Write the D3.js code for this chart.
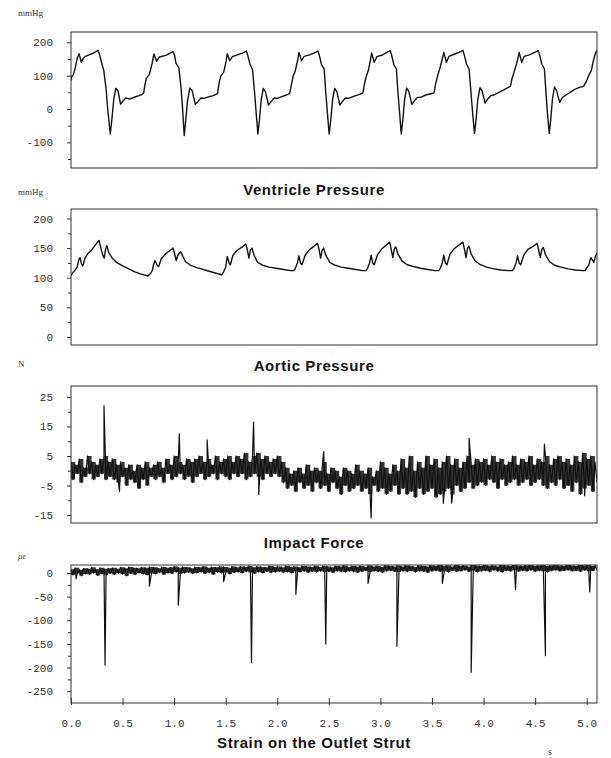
<!DOCTYPE html>
<html lang="en">
<head>
<meta charset="utf-8" />
<title>Valve Test Traces</title>
<script src="https://d3js.org/d3.v7.min.js"></script>
<style>
  body{margin:0;background:#fff;}
  svg{display:block;}
  .tick text{font-family:"Liberation Mono","DejaVu Sans Mono",monospace;font-size:11px;fill:#333;}
  .tick line{stroke:#333;stroke-width:1;}
  .unit{font-family:"Liberation Serif","DejaVu Serif",serif;font-size:9px;fill:#333;}
  .title{font-family:"Liberation Sans",Arial,sans-serif;font-size:15px;font-weight:bold;fill:#151515;letter-spacing:.6px;}
  .frame{fill:none;stroke:#333;stroke-width:1;}
  .trace{fill:none;stroke:#111;stroke-linejoin:round;}
  .band{fill:#111;fill-opacity:.85;stroke:none;}
</style>
</head>
<body>
<svg id="chart" width="611" height="758"></svg>
<script>
// -------------- DATA --------------
// time axis (s)
const X_TICKS=[0,0.5,1,1.5,2,2.5,3,3.5,4,4.5,5];

// ventricle pressure, [s, mmHg]
const VENTRICLE=[
  [0,85],[0.006,98],[0.02,100],[0.04,122],[0.06,152],[0.078,166],[0.10,140],[0.12,152],[0.14,158],[0.18,163],
  [0.22,168],[0.262,176],[0.275,165],[0.30,135],[0.318,115],[0.34,60],[0.356,0],[0.381,-75],[0.395,-35],[0.415,30],
  [0.435,62],[0.455,55],[0.48,15],[0.50,22],[0.53,33],[0.57,30],[0.62,36],[0.66,40],[0.69,44],[0.705,48],
  [0.715,70],[0.73,92],[0.76,104],[0.785,135],[0.804,165],[0.83,143],[0.855,156],[0.92,161],[0.99,172],[1.005,160],
  [1.018,137],[1.045,125],[1.065,70],[1.08,10],[1.098,-80],[1.112,-35],[1.13,25],[1.152,63],[1.175,55],[1.205,14],
  [1.23,22],[1.26,33],[1.29,32],[1.34,37],[1.38,40],[1.42,46],
  [1.44,85],[1.455,100],[1.48,110],[1.505,145],[1.515,166],[1.54,145],[1.565,157],[1.62,163],[1.68,170],[1.70,174],
  [1.715,160],[1.735,135],[1.76,118],[1.78,50],[1.795,-10],[1.812,-75],[1.828,-30],[1.845,30],[1.865,62],[1.885,52],
  [1.915,12],[1.94,22],[1.97,33],[2.00,32],[2.05,38],[2.09,42],[2.12,47],
  [2.135,70],[2.155,100],[2.175,115],[2.20,150],[2.21,170],[2.235,145],[2.26,158],[2.32,163],[2.37,170],[2.395,174],
  [2.41,158],[2.43,132],[2.455,120],[2.47,50],[2.487,-15],[2.503,-75],[2.52,-30],[2.537,30],[2.557,62],[2.577,52],
  [2.607,12],[2.63,22],[2.66,33],[2.69,32],[2.74,38],[2.79,43],[2.83,48],
  [2.845,75],[2.865,100],[2.885,118],[2.905,150],[2.915,168],[2.94,140],[2.965,157],[3.02,162],[3.075,172],[3.095,175],
  [3.11,160],[3.13,133],[3.155,120],[3.17,50],[3.187,-15],[3.202,-75],[3.218,-30],[3.235,30],[3.255,63],[3.275,53],
  [3.305,14],[3.33,25],[3.36,35],[3.39,35],[3.44,42],[3.48,45],[3.52,48],
  [3.535,75],[3.555,100],[3.575,120],[3.60,150],[3.615,170],[3.64,140],[3.665,158],[3.72,165],[3.78,172],[3.80,176],
  [3.815,160],[3.835,135],[3.86,120],[3.878,50],[3.895,-15],[3.912,-73],[3.928,-30],[3.945,30],[3.965,64],[3.985,55],
  [4.015,18],[4.04,30],[4.07,40],[4.10,42],[4.15,50],[4.20,58],[4.24,65],[4.26,68],
  [4.275,90],[4.29,105],[4.31,125],[4.33,148],[4.345,170],[4.37,140],[4.395,158],[4.45,163],[4.51,172],[4.53,175],
  [4.545,160],[4.565,135],[4.59,120],[4.605,50],[4.62,-15],[4.637,-73],[4.652,-30],[4.668,30],[4.688,66],[4.708,55],
  [4.738,20],[4.765,35],[4.80,42],[4.84,50],[4.88,58],[4.93,65],[4.97,68],[5.00,85],[5.02,100],[5.045,115],
  [5.065,145],[5.085,168],[5.10,175]
];

// aortic pressure, [s, mmHg]
const AORTIC=[
  [0,103],[0.01,107],[0.035,112],[0.06,118],[0.075,130],[0.088,134],[0.10,124],[0.115,120],[0.135,133],[0.16,140],
  [0.20,147],[0.235,155],[0.272,163],[0.29,150],[0.31,137],[0.322,133],[0.335,148],[0.348,154],[0.365,143],[0.40,133],
  [0.45,125],[0.50,120],[0.56,115],[0.62,110],[0.68,106],[0.745,103],
  [0.775,108],[0.79,113],[0.80,122],[0.815,129],[0.835,121],[0.85,119],[0.875,132],[0.92,141],[0.96,146],[0.99,150],
  [1.005,140],[1.02,129],[1.035,138],[1.06,144],[1.08,138],[1.11,127],[1.16,121],[1.22,117],[1.28,114],[1.34,111],
  [1.40,108],[1.46,105],
  [1.48,110],[1.50,118],[1.515,136],[1.535,124],[1.545,122],[1.57,138],[1.61,146],[1.66,152],[1.695,157],[1.71,147],
  [1.725,133],[1.74,147],[1.755,150],[1.775,138],[1.81,126],[1.86,121],[1.92,118],[1.99,116],[2.06,114],[2.13,112],
  [2.16,112],
  [2.175,116],[2.195,125],[2.21,137],[2.225,125],[2.24,122],[2.27,138],[2.31,147],[2.355,153],[2.39,158],[2.405,148],
  [2.42,133],[2.435,146],[2.45,150],[2.47,138],[2.51,126],[2.56,121],[2.62,118],[2.69,116],[2.76,114],[2.83,112],
  [2.86,112],
  [2.875,116],[2.895,125],[2.91,138],[2.925,125],[2.94,122],[2.97,138],[3.01,148],[3.055,155],[3.09,160],[3.105,148],
  [3.12,134],[3.135,149],[3.15,152],[3.17,140],[3.21,128],[3.26,122],[3.32,119],[3.39,116],[3.46,114],[3.53,112],
  [3.565,112],
  [3.58,116],[3.60,125],[3.615,138],[3.63,125],[3.645,122],[3.675,140],[3.715,149],[3.76,155],[3.80,160],[3.815,148],
  [3.83,134],[3.845,150],[3.86,153],[3.88,140],[3.92,128],[3.97,122],[4.03,118],[4.10,115],[4.17,113],[4.24,112],
  [4.28,112],
  [4.295,116],[4.315,125],[4.33,137],[4.345,125],[4.36,122],[4.39,138],[4.43,148],[4.48,153],[4.52,158],[4.535,146],
  [4.55,134],[4.565,148],[4.58,151],[4.60,139],[4.64,127],[4.69,121],[4.75,118],[4.82,115],[4.89,113],[4.96,112],
  [4.985,112],[5.00,117],[5.02,121],[5.04,134],[5.055,130],[5.07,126],[5.085,136],[5.10,141]
];

// impact force (N): upper / lower swing of the trace in each 0.04 s step
const SAMPLE=0.04;
const IMPACT_HI=[
  3,2,4,1,5,3,2,4,5,3,  4,2,3,1,2,0,2,1,3,1,  2,3,1,4,2,5,3,2,4,3,  4,5,3,4,2,5,3,4,5,3,
  5,4,6,3,5,6,4,5,3,4,  5,3,1,-1,0,1,-1,2,0,1,  0,3,-1,1,0,-2,1,0,-1,2,  0,-1,1,-2,0,3,1,-1,2,0,
  4,1,5,0,3,1,5,2,4,1,  3,5,2,4,1,3,5,2,4,3,  4,2,5,3,4,2,3,5,2,4,  3,5,2,4,3,5,2,4,5,3,
  4,2,5,3,6,4,5,3
];
const IMPACT_LO=[
  -3,-1,-4,-2,-1,-3,-2,-1,-3,-2,  -3,-4,-2,-5,-3,-4,-6,-3,-5,-2,  -3,-2,-4,-1,-3,-2,-1,-3,-2,-4,  -2,-1,-3,-2,-1,-3,-1,-2,-3,-1,
  -2,-1,-3,-2,-1,-2,-3,-1,-2,-1,  -2,-4,-6,-5,-7,-4,-6,-5,-7,-4,  -6,-5,-7,-4,-6,-8,-5,-7,-6,-5,  -7,-6,-8,-5,-7,-6,-8,-7,-5,-8,
  -6,-8,-7,-9,-6,-8,-7,-6,-9,-8,  -7,-6,-8,-5,-7,-6,-4,-6,-5,-4,  -5,-3,-4,-6,-3,-5,-4,-3,-5,-4,  -3,-5,-4,-3,-5,-6,-4,-5,-3,-6,
  -5,-7,-4,-8,-6,-5,-7,-4
];
const IMPACT_SPIKES=[
  [0.32,22],[0.47,-7],[1.05,12.5],[1.32,10.5],[1.77,16.5],[1.82,-8],[2.45,6.5],[2.91,-16],
  [3.61,-11],[3.69,-11],[3.86,11],[4.59,9],[4.98,-8.5]
];

// strain on the outlet strut (microstrain)
const STRAIN_HI=[
  8,11,7,10,9,12,8,11,9,10,  11,9,12,10,13,11,10,12,11,13,  12,10,13,11,12,14,11,13,12,10,  13,12,14,11,13,12,14,13,11,14,
  12,14,13,15,12,14,13,12,15,13,  14,12,15,13,14,12,15,14,13,15,  13,15,14,12,15,14,16,13,15,14,  15,13,16,14,15,13,16,15,14,16,
  14,16,15,13,16,15,14,16,15,17,  15,16,14,17,15,16,14,17,16,15,  17,15,16,14,17,16,15,17,16,15,  16,17,15,16,17,15,16,17,16,15,
  17,16,15,17,16,17,15,16
];
const STRAIN_LO=[
  -4,-1,-6,-2,-3,0,-5,-2,-4,-1,  -3,0,-2,-6,-1,-3,0,-2,-4,-1,  -2,1,-3,0,-1,2,-2,0,1,-1,  0,2,-1,1,-3,2,0,1,-2,1,
  2,0,3,1,-1,2,0,3,1,2,  3,1,2,0,3,2,4,1,3,2,  4,2,3,1,4,3,2,4,3,1,  3,5,2,4,3,1,4,5,3,2,
  4,3,5,2,4,3,1,4,5,3,  4,2,5,3,4,6,3,5,2,4,  5,3,6,4,2,5,4,6,3,5,  4,6,3,5,4,2,5,6,4,5,
  6,4,5,3,6,4,5,6
];
const STRAIN_SPIKES=[
  [0.05,-12],[0.33,-195],[0.76,-28],[1.04,-68],[1.48,-18],[1.75,-190],[2.18,-45],[2.47,-150],
  [2.88,-22],[3.16,-155],[3.60,-22],[3.88,-210],[4.31,-35],[4.60,-175],[5.03,-40]
];

// y ticks per panel
const VP_TICKS=[200,100,0,-100],   VP_MINOR=[150,50,-50,-150];
const AO_TICKS=[200,150,100,50,0], AO_MINOR=[175,125,75,25];
const IF_TICKS=[25,15,5,-5,-15],   IF_MINOR=[20,10,0,-10];
const ST_TICKS=[0,-50,-100,-150,-200,-250], ST_MINOR=[-25,-75,-125,-175,-225];

// -------------- BUILD --------------
function noiseTrace(hi,lo,spikes){
  const pts=[];
  hi.forEach((h,i)=>{
    pts.push([i*SAMPLE,h]);
    pts.push([i*SAMPLE+SAMPLE/2,lo[i]]);
  });
  return pts.concat(spikes).sort((a,b)=>a[0]-b[0]);
}
function envelope(hi,lo){
  return hi.map((h,i)=>({t:i*SAMPLE,hi:h,lo:lo[i]}));
}

const svg=d3.select('#chart');
const X0=71,X1=597;
const x=d3.scaleLinear().domain([0,5.1]).range([X0,X1]);
const line=(y)=>d3.line().x(d=>x(d[0])).y(d=>y(d[1]));

const panels=[
  {top:32, bottom:168,domain:[-177,231],ticks:VP_TICKS,minor:VP_MINOR,data:VENTRICLE,width:1.4,
   unit:'mmHg',unitY:16,title:'Ventricle Pressure',titleY:195},
  {top:209,bottom:345,domain:[-13.5,216],ticks:AO_TICKS,minor:AO_MINOR,data:AORTIC,width:1.4,
   unit:'mmHg',unitY:195,title:'Aortic Pressure',titleY:371},
  {top:386,bottom:523,domain:[-17.7,28.7],ticks:IF_TICKS,minor:IF_MINOR,data:noiseTrace(IMPACT_HI,IMPACT_LO,IMPACT_SPIKES),width:1.2,
   band:envelope(IMPACT_HI,IMPACT_LO),unit:'N',unitY:367,title:'Impact Force',titleY:548},
  {top:565,bottom:703,domain:[-275,17],ticks:ST_TICKS,minor:ST_MINOR,data:noiseTrace(STRAIN_HI,STRAIN_LO,STRAIN_SPIKES),width:1.2,
   band:envelope(STRAIN_HI,STRAIN_LO),unit:'\u03BC\u03B5',unitY:559,title:'Strain on the Outlet Strut',titleY:748}
];

panels.forEach((p,i)=>{
  const y=d3.scaleLinear().domain(p.domain).range([p.bottom,p.top]);
  const id='clip'+i;
  svg.append('clipPath').attr('id',id).append('rect')
    .attr('x',X0).attr('y',p.top).attr('width',X1-X0).attr('height',p.bottom-p.top);

  if(p.band){
    // dense trace: shade the min/max envelope of each step
    const area=d3.area().curve(d3.curveStepAfter)
      .x(d=>x(d.t)).y0(d=>y(d.lo)).y1(d=>y(d.hi));
    svg.append('path').datum(p.band).attr('class','band').attr('clip-path',`url(#${id})`).attr('d',area);
  }
  svg.append('path').datum(p.data).attr('class','trace').attr('clip-path',`url(#${id})`)
    .attr('stroke-width',p.width).attr('d',line(y));

  svg.append('rect').attr('class','frame')
    .attr('x',X0).attr('y',p.top).attr('width',X1-X0).attr('height',p.bottom-p.top);

  const ax=svg.append('g').attr('transform',`translate(${X0},0)`)
    .call(d3.axisLeft(y).tickValues(p.ticks).tickSize(4).tickPadding(14).tickFormat(d=>d));
  ax.select('.domain').remove();
  const mn=svg.append('g').attr('transform',`translate(${X0},0)`)
    .call(d3.axisLeft(y).tickValues(p.minor).tickSize(3).tickFormat(''));
  mn.select('.domain').remove();

  svg.append('text').attr('class','unit').attr('x',18).attr('y',p.unitY)
    .style('font-style',i===3?'italic':'normal').text(p.unit);
  svg.append('text').attr('class','title').attr('x',314).attr('y',p.titleY)
    .attr('text-anchor','middle').text(p.title);

  if(i===3){
    const bx=svg.append('g').attr('transform',`translate(0,${p.bottom})`)
      .call(d3.axisBottom(x).tickValues(X_TICKS).tickSizeInner(-5).tickSizeOuter(0).tickPadding(16).tickFormat(d3.format('.1f')));
    bx.select('.domain').remove();
    bx.selectAll('.tick line').attr('y1',2);
    svg.append('text').attr('class','unit').attr('x',548).attr('y',755).style('font-size','10px').text('s');
  }
});
</script>
</body>
</html>
